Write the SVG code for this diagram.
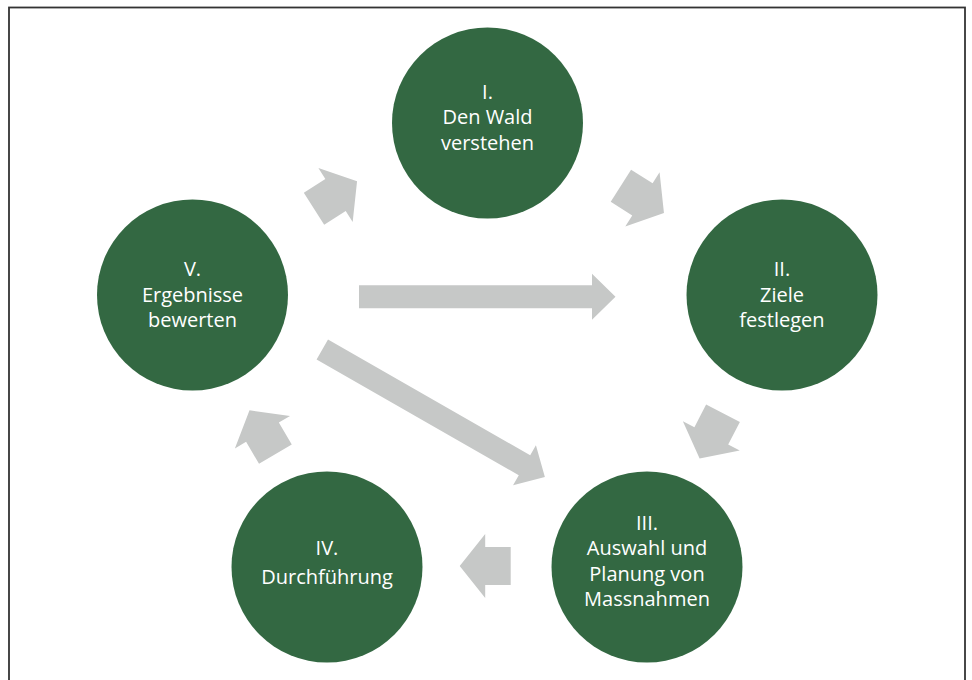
<svg xmlns="http://www.w3.org/2000/svg" width="972" height="680" viewBox="0 0 972 680">
<style>
.node circle{fill:#336842}
.node text{fill:#ffffff;font-family:"Open Sans","Noto Sans","DejaVu Sans",sans-serif;font-size:20px;text-anchor:middle}
.conn use{fill:#c6c8c7}
</style>
<defs>
<polygon id="short" points="0,-19 25.5,-19 25.5,-32 51,0 25.5,32 25.5,19 0,19"/>
<polygon id="long" points="0,-11.5 233,-11.5 233,-23 256.5,0 233,23 233,11.5 0,11.5"/>
</defs>
<rect x="9" y="7.5" width="956" height="700" fill="#ffffff" stroke="#333333" stroke-width="1.8"/>
<g id="connectors" class="conn">
<use href="#short" transform="translate(314,208.7) rotate(-32.4)"/>
<use href="#short" transform="translate(620.9,185.7) rotate(32.4)"/>
<use href="#short" transform="translate(723,413.2) rotate(117.3)"/>
<use href="#short" transform="translate(510.7,566) rotate(180)"/>
<use href="#short" transform="translate(275.4,454.2) rotate(-120.5)"/>
<use href="#long" transform="translate(359,296.7)"/>
<use href="#long" transform="translate(322.3,349.5) rotate(29.8)"/>
</g>
<g id="node1" class="node">
<circle cx="487.5" cy="123" r="95.5"/>
<text x="487.5" y="98.5">I.</text>
<text x="487.5" y="124">Den Wald</text>
<text x="487.5" y="149.5">verstehen</text>
</g>
<g id="node2" class="node">
<circle cx="782" cy="295" r="95.5"/>
<text x="782" y="276">II.</text>
<text x="782" y="301.5">Ziele</text>
<text x="782" y="327">festlegen</text>
</g>
<g id="node3" class="node">
<circle cx="647" cy="567" r="95.5"/>
<text x="647" y="529.5">III.</text>
<text x="647" y="555">Auswahl und</text>
<text x="647" y="580.5">Planung von</text>
<text x="647" y="606">Massnahmen</text>
</g>
<g id="node4" class="node">
<circle cx="327" cy="567" r="95.5"/>
<text x="327" y="555">IV.</text>
<text x="327" y="584">Durchführung</text>
</g>
<g id="node5" class="node">
<circle cx="192.5" cy="295" r="95.5"/>
<text x="192.5" y="276">V.</text>
<text x="192.5" y="301.5">Ergebnisse</text>
<text x="192.5" y="327">bewerten</text>
</g>
</svg>
